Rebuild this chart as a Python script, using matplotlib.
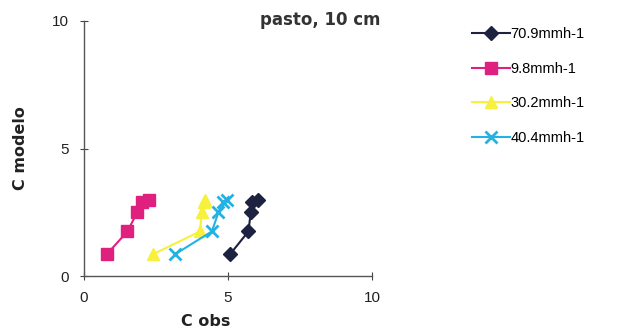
import matplotlib.pyplot as plt

# C modelo (same heights for all series)
c_modelo = [0.85, 1.75, 2.5, 2.9, 3.0]

obs_709 = [5.07, 5.71, 5.79, 5.85, 6.05]
obs_98 = [0.79, 1.51, 1.85, 2.0, 2.25]
obs_302 = [2.39, 4.03, 4.09, 4.15, 4.2]
obs_404 = [3.16, 4.44, 4.67, 4.84, 4.96]

labels = ["70.9mmh-1", "9.8mmh-1", "30.2mmh-1", "40.4mmh-1"]
colors = ["#1c2240", "#e0207f", "#f7f03c", "#22b2e4"]
markers = ["D", "s", "^", "x"]
sizes = [7, 9, 8, 9]

plt.rcParams['font.family'] = ['Liberation Sans', 'DejaVu Sans']

fig = plt.figure(figsize=(6.31, 3.35), dpi=100)
ax = fig.add_axes([84 / 631, 1 - 276 / 335, 288 / 631, 255 / 335])

for obs, lab, c, m, s in zip([obs_709, obs_98, obs_302, obs_404], labels, colors, markers, sizes):
    ax.plot(obs, c_modelo, color=c, marker=m, markersize=s, lw=1.5,
            markeredgewidth=2 if m == "x" else 1, label=lab)

ax.set_xlim(0, 10)
ax.set_ylim(0, 10)
ax.set_xticks([0, 5, 10])
ax.set_yticks([0, 5, 10])
ax.tick_params(direction="inout", length=6, width=0.8, colors="#444444",
               labelcolor="#222222", labelsize=11)
ax.tick_params(axis="x", pad=8)
ax.tick_params(axis="y", pad=8)
for sp in ["top", "right"]:
    ax.spines[sp].set_visible(False)
for sp in ["left", "bottom"]:
    ax.spines[sp].set_color("#555555")
    ax.spines[sp].set_linewidth(1.0)

ax.set_xlabel("C obs", fontsize=11.5, fontweight="bold", family="DejaVu Sans",
              color="#222222")
ax.xaxis.set_label_coords((206 - 84) / 288, (276 - 314) / 255)
ax.set_ylabel("C modelo", fontsize=11.5, fontweight="bold", family="DejaVu Sans",
              color="#222222")
ax.yaxis.set_label_coords((28 - 84) / 288, 0.5)
fig.text(380 / 631, 1 - 20 / 335, "pasto, 10 cm", ha="right", va="center",
         fontsize=12, fontweight="bold", family="DejaVu Sans", color="#333333")

fig.legend(loc="upper left", bbox_to_anchor=(472 / 631, 1 - 27 / 335), frameon=False,
           fontsize=10.5, handlelength=2.6, handletextpad=0.05, labelspacing=1.42,
           borderaxespad=0, borderpad=0)

fig.savefig("out.png", dpi=100)
